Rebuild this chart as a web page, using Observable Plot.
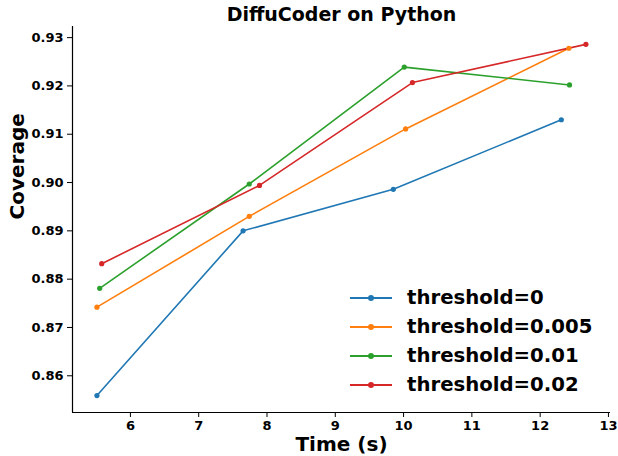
<!DOCTYPE html>
<html>
<head>
<meta charset="utf-8">
<script src="https://cdn.jsdelivr.net/npm/d3@7"></script>
<script src="https://cdn.jsdelivr.net/npm/@observablehq/plot@0.6"></script>
<style>
  html, body { margin: 0; padding: 0; background: #fff; }
  #wrap { position: relative; width: 618px; height: 456px; font-family: "DejaVu Sans", sans-serif; }
  #legend { position: absolute; left: 350px; top: 283px; font-weight: bold; font-size: 19.7px; color: #000; }
  #legend .row { display: flex; align-items: center; height: 29px; }
  #legend .sw { position: relative; width: 42px; height: 2px; margin-right: 15px; }
  #legend .sw i { position: absolute; left: 18px; top: -2px; width: 6px; height: 6px; border-radius: 50%; }
</style>
</head>
<body>
<div id="wrap"></div>
<script>
const series = ["threshold=0", "threshold=0.005", "threshold=0.01", "threshold=0.02"];
const colors = ["#1f77b4", "#ff7f0e", "#2ca02c", "#d62728"];
const timeT0 = [5.51, 7.65, 9.85, 12.31];
const covT0 = [0.8559, 0.8900, 0.8986, 0.9130];
const timeT005 = [5.51, 7.74, 10.03, 12.42];
const covT005 = [0.8742, 0.8930, 0.9111, 0.9278];
const timeT01 = [5.55, 7.74, 10.01, 12.43];
const covT01 = [0.8781, 0.8997, 0.9239, 0.9202];
const timeT02 = [5.58, 7.89, 10.13, 12.67];
const covT02 = [0.8832, 0.8994, 0.9207, 0.9286];
const xTicks = [6, 7, 8, 9, 10, 11, 12, 13];
const yTicks = [0.86, 0.87, 0.88, 0.89, 0.90, 0.91, 0.92, 0.93];

const times = [timeT0, timeT005, timeT01, timeT02];
const covs = [covT0, covT005, covT01, covT02];
const data = series.flatMap((s, i) => times[i].map((t, j) => ({series: s, time: t, cov: covs[i][j]})));

const chart = Plot.plot({
  width: 618,
  height: 456,
  marginLeft: 72,
  marginRight: 8,
  marginTop: 26,
  marginBottom: 44,
  style: {fontFamily: "DejaVu Sans, sans-serif", fontWeight: "bold", fontSize: "13px", color: "#000", background: "#fff"},
  x: {domain: [5.152, 13.03]},
  y: {domain: [0.8524, 0.9323]},
  color: {domain: series, range: colors},
  marks: [
    Plot.axisX({ticks: xTicks, tickFormat: d => String(d), tickSize: 5, tickPadding: 3, label: null}),
    Plot.axisY({ticks: yTicks, tickFormat: d3.format(".2f"), tickSize: 5, tickPadding: 4, label: null}),
    Plot.ruleX([5.152], {stroke: "#000", strokeWidth: 1.2}),
    Plot.ruleY([0.8524], {stroke: "#000", strokeWidth: 1.2}),
    Plot.line(data, {x: "time", y: "cov", z: "series", stroke: "series", strokeWidth: 1.6}),
    Plot.dot(data, {x: "time", y: "cov", fill: "series", r: 2.6}),
    Plot.text(["DiffuCoder on Python"], {frameAnchor: "top", lineAnchor: "middle", dy: -12, fontSize: 19, fontWeight: "bold", fill: "#000"}),
    Plot.text(["Time (s)"], {frameAnchor: "bottom", lineAnchor: "middle", dy: 32, fontSize: 20, fontWeight: "bold", fill: "#000"}),
    Plot.text(["Coverage"], {frameAnchor: "left", dx: -55, rotate: -90, fontSize: 20, fontWeight: "bold", fill: "#000"})
  ]
});
document.getElementById("wrap").appendChild(chart);

const legend = document.createElement("div");
legend.id = "legend";
series.forEach((s, i) => {
  const row = document.createElement("div");
  row.className = "row";
  const sw = document.createElement("span");
  sw.className = "sw";
  sw.style.background = colors[i];
  const dot = document.createElement("i");
  dot.style.background = colors[i];
  sw.appendChild(dot);
  const label = document.createElement("span");
  label.textContent = s;
  row.appendChild(sw);
  row.appendChild(label);
  legend.appendChild(row);
});
document.getElementById("wrap").appendChild(legend);
</script>
</body>
</html>
